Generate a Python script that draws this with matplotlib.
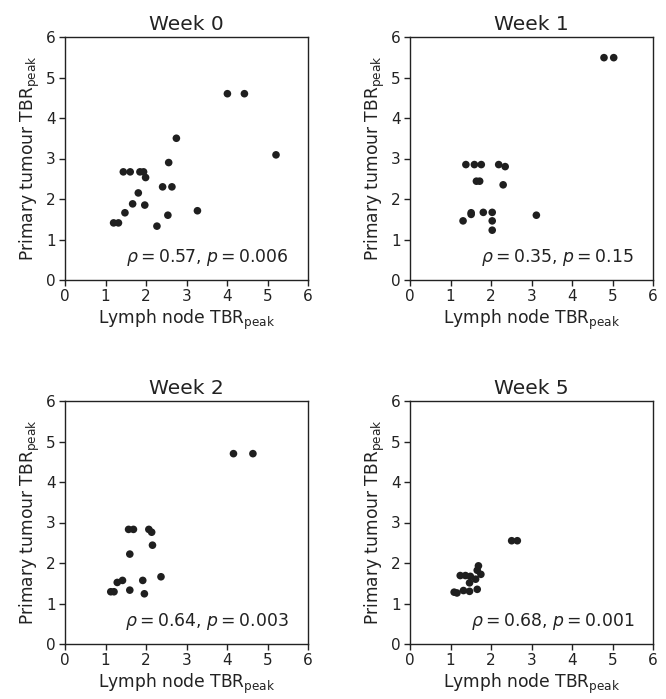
import matplotlib
matplotlib.use("Agg")
import matplotlib.pyplot as plt

# Week 0
w0_x = [4.01, 4.43, 5.21, 2.75, 2.56, 1.44, 1.61, 1.85, 1.94, 1.99, 2.41, 2.64,
        1.81, 1.67, 1.97, 1.48, 3.27, 2.54, 2.27, 1.20, 1.32]
w0_y = [4.60, 4.60, 3.09, 3.50, 2.90, 2.67, 2.67, 2.67, 2.67, 2.53, 2.30, 2.30,
        2.15, 1.88, 1.85, 1.66, 1.71, 1.60, 1.33, 1.41, 1.41]

# Week 1
w1_x = [4.79, 5.03, 1.38, 1.59, 1.76, 2.19, 2.35, 1.64, 1.72, 2.30, 1.51, 1.51,
        1.81, 2.03, 2.03, 2.03, 1.31, 3.12]
w1_y = [5.49, 5.49, 2.85, 2.85, 2.85, 2.85, 2.80, 2.44, 2.44, 2.35, 1.66, 1.62,
        1.67, 1.67, 1.46, 1.23, 1.46, 1.60]

# Week 2
w2_x = [4.16, 4.64, 1.57, 1.69, 2.07, 2.14, 2.16, 1.60, 2.37, 1.92, 1.29, 1.42,
        1.60, 1.96, 1.13, 1.21]
w2_y = [4.70, 4.70, 2.83, 2.83, 2.83, 2.76, 2.44, 2.22, 1.66, 1.57, 1.52, 1.57,
        1.33, 1.24, 1.29, 1.29]

# Week 5
w5_x = [2.51, 2.65, 1.69, 1.66, 1.75, 1.24, 1.37, 1.49, 1.62, 1.47, 1.66, 1.32,
        1.47, 1.09, 1.16]
w5_y = [2.55, 2.55, 1.93, 1.82, 1.72, 1.69, 1.69, 1.67, 1.60, 1.51, 1.35, 1.32,
        1.30, 1.28, 1.26]

titles = ["Week 0", "Week 1", "Week 2", "Week 5"]
stats = [r"$\rho = 0.57$, $p = 0.006$", r"$\rho = 0.35$, $p = 0.15$",
         r"$\rho = 0.64$, $p = 0.003$", r"$\rho = 0.68$, $p = 0.001$"]
data = [(w0_x, w0_y), (w1_x, w1_y), (w2_x, w2_y), (w5_x, w5_y)]

plt.rcParams["font.family"] = "DejaVu Sans"
plt.rcParams["mathtext.fontset"] = "dejavusans"

fig = plt.figure(figsize=(6.66, 6.99), dpi=100, facecolor="white")

positions = [
    [65 / 666, 1 - 280 / 699, 243 / 666, 243 / 699],
    [410 / 666, 1 - 280 / 699, 243 / 666, 243 / 699],
    [65 / 666, 1 - 644 / 699, 243 / 666, 243 / 699],
    [410 / 666, 1 - 644 / 699, 243 / 666, 243 / 699],
]

for pos, (xs, ys), title, st in zip(positions, data, titles, stats):
    ax = fig.add_axes(pos)
    ax.scatter(xs, ys, s=30, color="#1f1f1f", edgecolors="none", zorder=3)
    ax.set_xlim(0, 6)
    ax.set_ylim(0, 6)
    ax.set_xticks(range(0, 7))
    ax.set_yticks(range(0, 7))
    ax.tick_params(direction="out", length=4, width=1, pad=2.5, labelsize=11,
                   colors="#222222")
    for sp in ax.spines.values():
        sp.set_color("#222222")
        sp.set_linewidth(1)
    ax.set_title(title, fontsize=14.5, color="#222222", pad=5)
    ax.set_xlabel(r"Lymph node TBR$_{\mathrm{peak}}$", fontsize=12.3, color="#222222",
                  labelpad=3)
    ax.set_ylabel(r"Primary tumour TBR$_{\mathrm{peak}}$", fontsize=12.3, color="#222222",
                  labelpad=3)
    ax.text(0.922, 0.05, st, transform=ax.transAxes, ha="right", va="bottom",
            fontsize=12.4, color="#222222")

fig.savefig("out.png", dpi=100)
